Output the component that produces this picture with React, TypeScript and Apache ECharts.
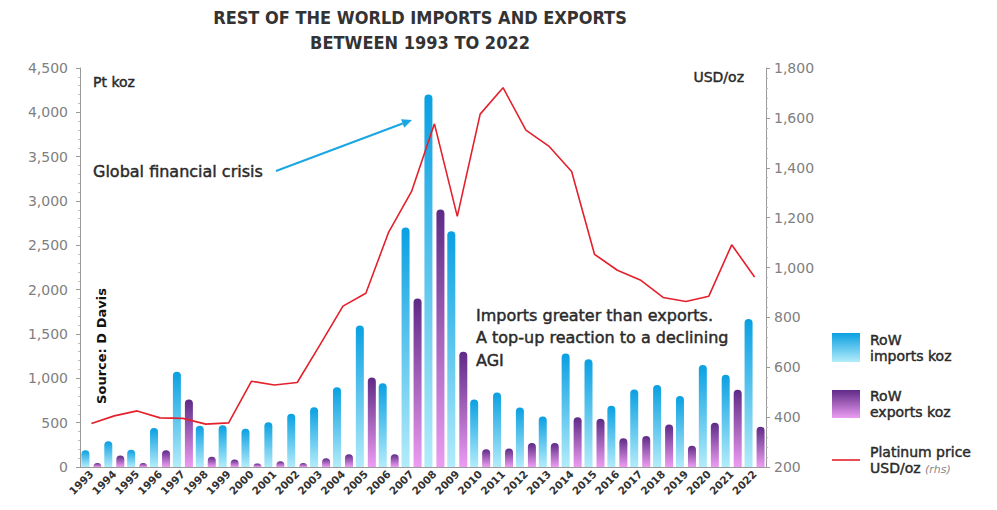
import React, { useEffect, useRef } from "react";
import * as echarts from "echarts";

const years = ["1993","1994","1995","1996","1997","1998","1999","2000","2001","2002","2003","2004","2005","2006","2007","2008","2009","2010","2011","2012","2013","2014","2015","2016","2017","2018","2019","2020","2021","2022"];
const importsKoz = [190,290,195,440,1075,466,470,430,505,600,675,900,1595,945,2700,4200,2660,760,840,670,570,1280,1215,690,875,925,800,1150,1040,1670];
const exportsKoz = [45,130,45,188,760,115,85,40,65,45,100,145,1010,145,1900,2905,1300,200,210,270,270,560,545,325,350,480,240,500,870,455];
const priceUsd = [374,405,425,397,395,372,377,544,529,539,691,845,897,1142,1305,1576,1205,1615,1721,1551,1487,1385,1053,989,950,880,864,885,1091,962];

const FONT = "'DejaVu Sans', 'Noto Sans', sans-serif";
const TITLE_FONT = "'Liberation Sans Narrow', 'DejaVu Sans Condensed', sans-serif";
const INK = "#2a2a2a";

const fmt = (v: number) => v.toLocaleString("en-US");

export default function App() {
  const ref = useRef<HTMLDivElement>(null);
  useEffect(() => {
    if (!ref.current) return;
    const chart = echarts.init(ref.current, undefined, { renderer: "svg" });
    const impGrad = () => new echarts.graphic.LinearGradient(0, 0, 0, 1, [
      { offset: 0, color: "#0aa0e2" },
      { offset: 1, color: "#b3ecfa" },
    ]);
    const expGrad = () => new echarts.graphic.LinearGradient(0, 0, 0, 1, [
      { offset: 0, color: "#5e2a86" },
      { offset: 1, color: "#ec9cf2" },
    ]);
    const tip = [412, 120];
    const dx = 0.938, dy = -0.347;
    const back = [tip[0] - 10 * dx, tip[1] - 10 * dy];
    const px = 0.347, py = 0.938;
    const medium = { stroke: INK, lineWidth: 0.45 };
    chart.setOption({
      animation: false,
      backgroundColor: "#ffffff",
      textStyle: { fontFamily: FONT },
      grid: { left: 80, right: 231, top: 68, bottom: 43, containLabel: false },
      xAxis: {
        type: "category",
        data: years,
        axisLine: { lineStyle: { color: "#9a9a9a", width: 1 } },
        axisTick: { show: false },
        axisLabel: { rotate: 45, interval: 0, margin: 5, color: "#333", fontSize: 10.5, fontWeight: "bold", fontFamily: FONT },
      },
      yAxis: [
        {
          type: "value", min: 0, max: 4500, interval: 500,
          axisLine: { show: true, lineStyle: { color: "#9a9a9a" } },
          axisTick: { show: true, length: 4, lineStyle: { color: "#9a9a9a" } },
          minorTick: { show: true, splitNumber: 5, length: 2, lineStyle: { color: "#bbb" } },
          splitLine: { show: false },
          axisLabel: { color: "#808080", fontSize: 14, margin: 12, formatter: fmt, fontFamily: FONT },
        },
        {
          type: "value", min: 200, max: 1800, interval: 200, position: "right",
          axisLine: { show: true, lineStyle: { color: "#9a9a9a" } },
          axisTick: { show: true, length: 4, lineStyle: { color: "#9a9a9a" } },
          minorTick: { show: true, splitNumber: 5, length: 2, lineStyle: { color: "#bbb" } },
          splitLine: { show: false },
          axisLabel: { color: "#808080", fontSize: 14, margin: 8, formatter: fmt, fontFamily: FONT },
        },
      ],
      series: [
        {
          name: "RoW imports koz", type: "bar", data: importsKoz, barWidth: 8, barGap: "50%",
          itemStyle: { color: impGrad(), borderRadius: [4, 4, 0, 0] },
        },
        {
          name: "RoW exports koz", type: "bar", data: exportsKoz, barWidth: 8, barGap: "50%",
          itemStyle: { color: expGrad(), borderRadius: [4, 4, 0, 0] },
        },
        {
          name: "Platinum price USD/oz", type: "line", yAxisIndex: 1, data: priceUsd,
          symbol: "none", lineStyle: { color: "#e3202b", width: 1.6 }, z: 5,
        },
      ],
      graphic: [
        { type: "text", x: 420, y: 8, style: { text: "REST OF THE WORLD IMPORTS AND EXPORTS", fill: "#333", font: `bold 18px ${TITLE_FONT}`, textAlign: "center" } },
        { type: "text", x: 420, y: 33, style: { text: "BETWEEN 1993 TO 2022", fill: "#333", font: `bold 18px ${TITLE_FONT}`, textAlign: "center" } },
        { type: "text", x: 93, y: 82, style: { text: "Pt koz", fill: INK, font: `14px ${FONT}`, textVerticalAlign: "middle", ...medium } },
        { type: "text", x: 744, y: 77, style: { text: "USD/oz", fill: INK, font: `14px ${FONT}`, textAlign: "right", textVerticalAlign: "middle", ...medium } },
        { type: "text", x: 93, y: 171, style: { text: "Global financial crisis", fill: INK, font: `16px ${FONT}`, textVerticalAlign: "middle", ...medium } },
        { type: "line", shape: { x1: 276, y1: 171, x2: back[0], y2: back[1] }, style: { stroke: "#1aa6e0", lineWidth: 2 } },
        { type: "polygon", shape: { points: [tip, [back[0] + 4.5 * px, back[1] + 4.5 * py], [back[0] - 4.5 * px, back[1] - 4.5 * py]] }, style: { fill: "#1aa6e0" } },
        { type: "text", x: 476, y: 304, style: { text: "Imports greater than exports.\nA top-up reaction to a declining\nAGI", fill: INK, font: `16px ${FONT}`, lineHeight: 22.5, ...medium } },
        { type: "text", x: 101, y: 346, rotation: Math.PI / 2, style: { text: "Source: D Davis", fill: "#111", font: `bold 13px ${FONT}`, textAlign: "center", textVerticalAlign: "middle" } },
        { type: "rect", shape: { x: 832, y: 333, width: 28, height: 29 }, style: { fill: impGrad() } },
        { type: "text", x: 870, y: 332, style: { text: "RoW\nimports koz", fill: INK, font: `14px ${FONT}`, lineHeight: 16, ...medium } },
        { type: "rect", shape: { x: 832, y: 390, width: 28, height: 28 }, style: { fill: expGrad() } },
        { type: "text", x: 870, y: 388, style: { text: "RoW\nexports koz", fill: INK, font: `14px ${FONT}`, lineHeight: 16, ...medium } },
        { type: "line", shape: { x1: 832, y1: 460, x2: 860, y2: 460 }, style: { stroke: "#e3202b", lineWidth: 1.6 } },
        { type: "text", x: 870, y: 444, style: { text: "Platinum price\nUSD/oz", fill: INK, font: `14px ${FONT}`, lineHeight: 16, ...medium } },
        { type: "text", x: 925, y: 469, style: { text: "(rhs)", fill: "#888", font: `italic 11px ${FONT}`, textVerticalAlign: "middle" } },
      ],
    });
    return () => chart.dispose();
  }, []);
  return <div ref={ref} style={{ position: "fixed", left: 0, top: 0, width: 997, height: 510, background: "#fff" }} />;
}
